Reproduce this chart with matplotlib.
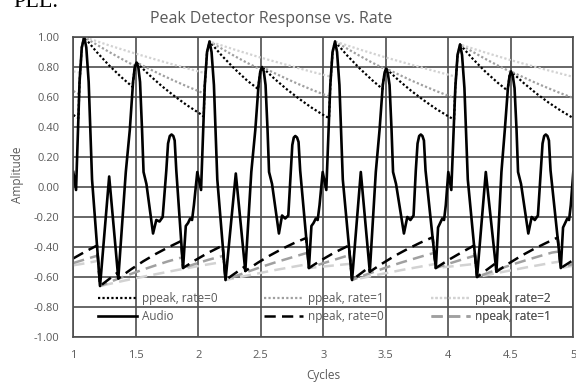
import matplotlib
matplotlib.use("Agg")
import matplotlib.pyplot as plt

# ---------------- data ----------------
audio_x = [
    1.000, 1.022, 1.050, 1.068, 1.087, 1.104, 1.123, 1.150, 1.214, 1.287,
    1.360, 1.420, 1.452, 1.478, 1.492, 1.506, 1.520, 1.534, 1.550, 1.562,
    1.585, 1.638, 1.664, 1.690, 1.715, 1.744, 1.758, 1.772, 1.786, 1.800,
    1.811, 1.824, 1.878, 1.900, 1.918, 1.935, 1.950, 1.965, 1.992,
    2.022, 2.052, 2.070, 2.090, 2.106, 2.125, 2.152, 2.218, 2.300, 2.376,
    2.424, 2.456, 2.482, 2.496, 2.510, 2.524, 2.538, 2.554, 2.566, 2.590,
    2.645, 2.670, 2.695, 2.720, 2.740, 2.752, 2.764, 2.776, 2.790, 2.802,
    2.815, 2.885, 2.905, 2.922, 2.940, 2.955, 2.970, 2.995,
    3.024, 3.056, 3.074, 3.094, 3.110, 3.129, 3.156, 3.230, 3.300, 3.372,
    3.420, 3.450, 3.476, 3.490, 3.502, 3.516, 3.530, 3.546, 3.558, 3.582,
    3.645, 3.672, 3.697, 3.722, 3.740, 3.754, 3.767, 3.780, 3.793, 3.805,
    3.818, 3.900, 3.918, 3.935, 3.952, 3.966, 3.980, 4.000,
    4.024, 4.056, 4.074, 4.094, 4.110, 4.129, 4.156, 4.230, 4.300, 4.385,
    4.425, 4.452, 4.477, 4.490, 4.502, 4.516, 4.530, 4.546, 4.558, 4.582,
    4.640, 4.667, 4.692, 4.717, 4.740, 4.754, 4.767, 4.780, 4.793, 4.805,
    4.818, 4.900, 4.918, 4.935, 4.952, 4.966, 4.980, 5.000,
]
audio_y = [
    0.10, -0.02, 0.70, 0.93, 1.00, 0.93, 0.70, 0.05, -0.66, 0.07,
    -0.61, 0.10, 0.38, 0.70, 0.80, 0.83, 0.80, 0.70, 0.38, 0.10,
    0.02, -0.31, -0.22, -0.23, -0.20, 0.11, 0.29, 0.34, 0.35, 0.34,
    0.31, 0.11, -0.54, -0.26, -0.24, -0.21, -0.22, -0.12, 0.10,
    -0.02, 0.68, 0.90, 0.97, 0.90, 0.68, 0.05, -0.62, 0.09, -0.56,
    0.10, 0.38, 0.68, 0.77, 0.80, 0.77, 0.68, 0.38, 0.10, 0.02,
    -0.31, -0.19, -0.21, -0.19, 0.11, 0.28, 0.33, 0.34, 0.33, 0.30,
    0.11, -0.54, -0.26, -0.24, -0.21, -0.22, -0.12, 0.10,
    -0.02, 0.68, 0.90, 0.97, 0.90, 0.68, 0.05, -0.62, 0.10, -0.565,
    0.10, 0.38, 0.68, 0.76, 0.79, 0.76, 0.68, 0.38, 0.10, 0.02,
    -0.31, -0.20, -0.22, -0.19, 0.11, 0.29, 0.34, 0.35, 0.34, 0.31,
    0.11, -0.54, -0.27, -0.24, -0.21, -0.22, -0.12, 0.10,
    -0.02, 0.66, 0.88, 0.95, 0.88, 0.66, 0.05, -0.60, 0.10, -0.565,
    0.10, 0.38, 0.66, 0.74, 0.77, 0.74, 0.66, 0.38, 0.10, 0.02,
    -0.31, -0.20, -0.22, -0.19, 0.11, 0.29, 0.34, 0.35, 0.34, 0.31,
    0.11, -0.54, -0.27, -0.24, -0.21, -0.22, -0.12, 0.10,
]

ppeak0_x = [1.000, 1.041, 1.050, 1.068, 1.087, 1.187, 1.287, 1.387, 1.475, 1.478,
            1.492, 1.506, 1.606, 1.706, 1.806, 1.906, 2.006, 2.043, 2.052, 2.070,
            2.090, 2.190, 2.290, 2.390, 2.479, 2.482, 2.496, 2.510, 2.610, 2.710,
            2.810, 2.910, 3.010, 3.046, 3.056, 3.074, 3.094, 3.194, 3.294, 3.394,
            3.474, 3.476, 3.490, 3.502, 3.602, 3.702, 3.802, 3.902, 4.002, 4.046,
            4.056, 4.074, 4.094, 4.194, 4.294, 4.394, 4.475, 4.477, 4.490, 4.502,
            4.602, 4.702, 4.802, 4.902, 5.000]
ppeak0_y = [0.48, 0.46, 0.70, 0.93, 1.00, 0.90, 0.81, 0.73, 0.667, 0.70,
            0.80, 0.83, 0.748, 0.674, 0.608, 0.547, 0.493, 0.47, 0.68, 0.90,
            0.97, 0.874, 0.788, 0.710, 0.653, 0.68, 0.77, 0.80, 0.721, 0.650,
            0.586, 0.527, 0.475, 0.46, 0.68, 0.90, 0.97, 0.874, 0.788, 0.710,
            0.653, 0.68, 0.76, 0.79, 0.712, 0.642, 0.579, 0.521, 0.470, 0.45,
            0.66, 0.88, 0.95, 0.856, 0.771, 0.696, 0.642, 0.66, 0.74, 0.77,
            0.694, 0.625, 0.563, 0.508, 0.459]

ppeak1_x = [1.000, 1.044, 1.050, 1.068, 1.087, 1.187, 1.287, 1.387, 1.495, 1.506,
            1.606, 1.706, 1.806, 1.906, 2.006, 2.049, 2.052, 2.070, 2.090, 2.190,
            2.290, 2.390, 2.502, 2.510, 2.610, 2.710, 2.810, 2.910, 3.010, 3.052,
            3.056, 3.074, 3.094, 3.194, 3.294, 3.394, 3.500, 3.502, 3.602, 3.702,
            3.802, 3.902, 4.002, 4.053, 4.056, 4.074, 4.094, 4.194, 4.294, 4.394,
            4.500, 4.502, 4.602, 4.702, 4.802, 4.902, 5.000]
ppeak1_y = [0.64, 0.62, 0.70, 0.93, 1.00, 0.949, 0.90, 0.854, 0.806, 0.83,
            0.788, 0.747, 0.709, 0.672, 0.638, 0.62, 0.68, 0.90, 0.97, 0.921,
            0.873, 0.828, 0.782, 0.80, 0.759, 0.720, 0.683, 0.648, 0.615, 0.603,
            0.68, 0.90, 0.97, 0.921, 0.873, 0.828, 0.784, 0.79, 0.750, 0.711,
            0.675, 0.640, 0.608, 0.59, 0.66, 0.88, 0.95, 0.902, 0.855, 0.811,
            0.767, 0.77, 0.731, 0.693, 0.658, 0.624, 0.593]

ppeak2_x = [1.000, 1.055, 1.068, 1.087, 1.287, 1.487, 1.687, 1.887, 2.058, 2.070,
            2.090, 2.290, 2.490, 2.690, 2.890, 3.061, 3.074, 3.094, 3.294, 3.494,
            3.694, 3.894, 4.062, 4.074, 4.094, 4.294, 4.494, 4.694, 4.894, 5.000]
ppeak2_y = [0.771, 0.762, 0.93, 1.00, 0.944, 0.892, 0.843, 0.796, 0.758, 0.90,
            0.97, 0.916, 0.865, 0.818, 0.772, 0.735, 0.90, 0.97, 0.916, 0.865,
            0.818, 0.772, 0.735, 0.88, 0.95, 0.897, 0.847, 0.801, 0.757, 0.734]

npeak0_x = [1.000, 1.100, 1.190, 1.214, 1.355, 1.360, 1.460, 1.560, 1.660, 1.760,
            1.863, 1.878, 1.978, 2.078, 2.195, 2.218, 2.372, 2.376, 2.476, 2.576,
            2.676, 2.776, 2.863, 2.885, 2.985, 3.085, 3.205, 3.230, 3.366, 3.372,
            3.472, 3.572, 3.672, 3.772, 3.875, 3.900, 4.000, 4.100, 4.206, 4.230,
            4.376, 4.385, 4.485, 4.585, 4.685, 4.785, 4.875, 4.900, 5.000]
npeak0_y = [-0.476, -0.429, -0.39, -0.66, -0.57, -0.61, -0.550, -0.495, -0.446, -0.402,
            -0.36, -0.54, -0.487, -0.439, -0.39, -0.62, -0.53, -0.56, -0.505, -0.455,
            -0.410, -0.370, -0.34, -0.54, -0.487, -0.439, -0.39, -0.62, -0.535, -0.565,
            -0.510, -0.459, -0.414, -0.373, -0.335, -0.54, -0.487, -0.439, -0.39, -0.60,
            -0.51, -0.565, -0.509, -0.458, -0.413, -0.372, -0.337, -0.54, -0.487]

npeak1_x = [1.000, 1.100, 1.196, 1.214, 1.360, 1.460, 1.560, 1.660, 1.760, 1.872,
            1.878, 1.978, 2.078, 2.202, 2.218, 2.318, 2.418, 2.518, 2.618, 2.718,
            2.818, 2.874, 2.885, 2.985, 3.085, 3.212, 3.230, 3.330, 3.430, 3.530,
            3.630, 3.730, 3.830, 3.887, 3.900, 4.000, 4.100, 4.214, 4.230, 4.330,
            4.430, 4.530, 4.630, 4.730, 4.830, 4.886, 4.900, 5.000]
npeak1_y = [-0.507, -0.481, -0.457, -0.66, -0.611, -0.580, -0.550, -0.522, -0.495, -0.469,
            -0.54, -0.512, -0.486, -0.458, -0.62, -0.588, -0.558, -0.529, -0.502, -0.477,
            -0.452, -0.438, -0.54, -0.512, -0.486, -0.453, -0.62, -0.588, -0.558, -0.529,
            -0.502, -0.477, -0.452, -0.44, -0.54, -0.512, -0.486, -0.457, -0.60, -0.569,
            -0.540, -0.512, -0.486, -0.461, -0.437, -0.43, -0.54, -0.512]

npeak2_x = [1.000, 1.100, 1.199, 1.214, 1.414, 1.614, 1.814, 2.014, 2.206, 2.218,
            2.418, 2.618, 2.818, 2.882, 2.885, 3.085, 3.218, 3.230, 3.430, 3.630,
            3.830, 3.897, 3.900, 4.100, 4.220, 4.230, 4.430, 4.630, 4.830, 4.895,
            4.900, 5.000]
npeak2_y = [-0.522, -0.508, -0.492, -0.66, -0.623, -0.589, -0.556, -0.525, -0.498, -0.62,
            -0.586, -0.553, -0.523, -0.514, -0.54, -0.523, -0.512, -0.62, -0.586, -0.553,
            -0.523, -0.513, -0.54, -0.523, -0.512, -0.60, -0.567, -0.535, -0.505, -0.497,
            -0.54, -0.525]

x_ticks = [1, 1.5, 2, 2.5, 3, 3.5, 4, 4.5, 5]
x_tick_labels = ["1", "1.5", "2", "2.5", "3", "3.5", "4", "4.5", "5"]
y_ticks = [1.0, 0.8, 0.6, 0.4, 0.2, 0.0, -0.2, -0.4, -0.6, -0.8, -1.0]
y_tick_labels = ["1.00", "0.80", "0.60", "0.40", "0.20", "0.00",
                 "-0.20", "-0.40", "-0.60", "-0.80", "-1.00"]

title = "Peak Detector Response vs. Rate"
xlabel = "Cycles"
ylabel = "Amplitude"

# ---------------- figure ----------------
W, H = 576, 383
fig = plt.figure(figsize=(W / 100, H / 100), dpi=100)
FONT = "Open Sans"
TXT = "#595959"
GRID = "#4d4d4d"

ax = fig.add_axes([73.3 / W, 1 - 337 / H, 500 / W, 300 / H])
ax.set_xlim(1, 5)
ax.set_ylim(-1, 1)
ax.set_xticks(x_ticks)
ax.set_xticklabels(x_tick_labels)
ax.set_yticks(y_ticks)
ax.set_yticklabels(y_tick_labels)
ax.tick_params(length=0, labelsize=8, labelcolor=TXT)
ax.tick_params(axis="x", pad=9)
ax.tick_params(axis="y", pad=10)
for lab in ax.get_xticklabels() + ax.get_yticklabels():
    lab.set_fontfamily(FONT)
ax.grid(True, color=GRID, lw=1.2)
ax.set_axisbelow(True)
for s in ax.spines.values():
    s.set_color(GRID)
    s.set_linewidth(1.2)

c_mid = "#a0a0a0"
c_light = "#d2d2d2"
dot = (0, (1, 1))
dash = (0, (4.5, 2.5))

l_p0, = ax.plot(ppeak0_x, ppeak0_y, color="black", lw=1.6, ls=dot, label="ppeak, rate=0")
l_p1, = ax.plot(ppeak1_x, ppeak1_y, color=c_mid, lw=1.6, ls=dot, label="ppeak, rate=1")
l_p2, = ax.plot(ppeak2_x, ppeak2_y, color=c_light, lw=1.6, ls=dot, label="ppeak, rate=2")
l_n2, = ax.plot(npeak2_x, npeak2_y, color=c_light, lw=1.8, ls=dash, label="npeak, rate=2")
l_n1, = ax.plot(npeak1_x, npeak1_y, color=c_mid, lw=1.8, ls=dash, label="npeak, rate=1")
l_n0, = ax.plot(npeak0_x, npeak0_y, color="black", lw=1.8, ls=dash, label="npeak, rate=0")
l_a, = ax.plot(audio_x, audio_y, color="black", lw=1.9, solid_joinstyle="round",
               label="Audio")

# legend: three columns placed explicitly
col_x = [98, 264, 431]
cols = [[l_p0, l_a], [l_p1, l_n0], [l_p2, l_n1]]
for cx, hs in zip(col_x, cols):
    leg = ax.legend(hs, [h.get_label() for h in hs], loc="center left",
                    bbox_to_anchor=(cx / W, 1 - 307.5 / H),
                    bbox_transform=fig.transFigure, frameon=False,
                    borderpad=0, borderaxespad=0, handlelength=3.3,
                    handletextpad=0.4, labelspacing=0.45,
                    prop={"family": FONT, "size": 8.5})
    for t in leg.get_texts():
        t.set_color(TXT)
    ax.add_artist(leg)

fig.text(271 / W, 1 - 19 / H, title, ha="center", va="center",
         fontsize=11.5, color=TXT, family=FONT)
fig.text(323.3 / W, 1 - 375 / H, xlabel, ha="center", va="center",
         fontsize=8.5, color=TXT, family=FONT)
fig.text(18 / W, 1 - 175 / H, ylabel, ha="center", va="center",
         rotation=90, fontsize=8.5, color=TXT, family=FONT)
fig.text(13 / W, 1 - 7 / H, "PLL.", ha="left", va="baseline",
         fontsize=16, color="black", family="Liberation Serif")

fig.savefig("out.png", dpi=100)
